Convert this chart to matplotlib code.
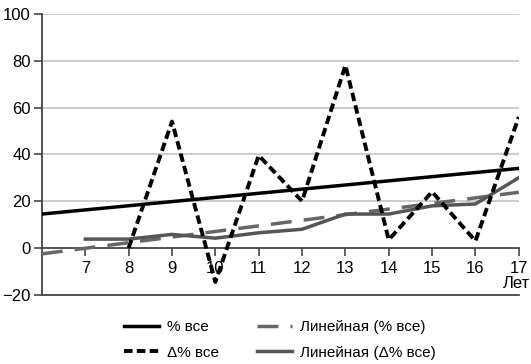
import matplotlib
matplotlib.use("Agg")
import matplotlib.pyplot as plt

plt.rcParams['font.family'] = ['Liberation Sans', 'DejaVu Sans']

# age, years
tick_ages = [7, 8, 9, 10, 11, 12, 13, 14, 15, 16, 17]

# "% все" line (straight) ends
pct_x = [6, 17]
pct_all = [14.5, 34]

# trend of "% все"
trend_pct_x = [6, 17]
trend_pct = [-2.5, 23.8]

# "Δ% все" (dotted)
delta_x = [8, 9, 10, 11, 12, 13, 14, 15, 16, 17]
delta_all = [0, 54, -14.5, 39.5, 20, 78, 3.5, 24, 3, 56]

# trend of "Δ% все" (gray solid)
trend_delta_x = [7, 8, 9, 10, 11, 12, 13, 14, 15, 16, 17]
trend_delta = [3.8, 3.8, 5.8, 4.2, 6.5, 8, 14.5, 14.5, 18, 18.8, 30]

fig = plt.figure(figsize=(5.31, 3.64), dpi=100)
ax = fig.add_axes([0.079, 0.19, 0.898, 0.772])

for yv in [20, 40, 60, 80, 100]:
    ax.axhline(yv, color='#c8c8c8', lw=1.3, zorder=0)
ax.axhline(-20, color='#444444', lw=1.3, zorder=1, clip_on=False)

l1, = ax.plot(pct_x, pct_all, color='black', lw=2.5, label='% все', zorder=5)
l3, = ax.plot(trend_pct_x, trend_pct, color='#666666', lw=2.5, dashes=(6, 3.5),
              label='Линейная (% все)', zorder=3)
l2, = ax.plot(delta_x, delta_all, color='black', lw=2.8, dashes=(2.2, 1.1),
              label='\u0394% все', zorder=4)
l4, = ax.plot(trend_delta_x, trend_delta, color='#555555', lw=2.5,
              label='Линейная (\u0394% все)', zorder=3)

ax.set_xlim(6, 17)
ax.set_ylim(-20, 100)
ax.set_yticks([-20, 0, 20, 40, 60, 80, 100])
ax.set_yticklabels(['\u221220', '0', '20', '40', '60', '80', '100'])
ax.set_xticks(tick_ages)
ax.set_xticklabels([str(a) for a in tick_ages])

ax.spines['top'].set_visible(False)
ax.spines['right'].set_visible(False)
ax.spines['bottom'].set_position(('data', 0))
ax.spines['bottom'].set_color('#444444')
ax.spines['left'].set_color('#444444')
ax.spines['bottom'].set_linewidth(1.3)
ax.spines['left'].set_linewidth(1.3)
ax.tick_params(axis='x', direction='out', length=6, width=1.2, color='#444444',
               labelsize=12, pad=3)
ax.tick_params(axis='y', direction='out', length=6, width=1.2, color='#444444',
               labelsize=12, pad=2)

ax.text(16.95, -15, 'Лет', ha='center', va='center', fontsize=12)

fig.legend(handles=[l1, l2, l3, l4], loc='center', bbox_to_anchor=(0.527, 0.066),
           ncol=2, frameon=False, fontsize=11, handlelength=2.3,
           columnspacing=2.5, handletextpad=0.5, labelspacing=0.75)

fig.savefig('out.png', dpi=100)
